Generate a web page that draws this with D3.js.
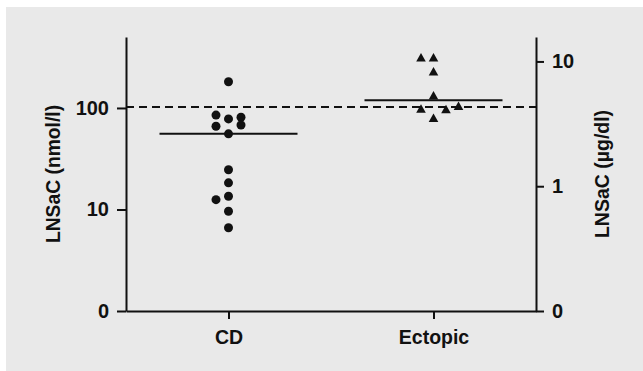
<!DOCTYPE html>
<html lang="en">

<head>
  <meta charset="UTF-8" />
  <title>LNSaC CD vs Ectopic</title>
  <script src="https://d3js.org/d3.v7.min.js"></script>
  <style>
    body { margin: 0; background: #fff; }
    svg text { font-family: "Liberation Sans", Arial, sans-serif; font-weight: bold; fill: #111; }
  </style>
</head>

<body>
  <svg width="643" height="371"></svg>

  <script>
    // groups and values (nmol/l)
    const groups = ["CD", "Ectopic"];
    const cdValues = [181, 85, 78, 81, 66, 68, 55.6, 24.6, 18.3, 13.5, 12.5, 9.6, 6.6];
    const cdSlots = [0, -1, 0, 1, -1, 1, 0, 0, 0, 0, -1, 0, 0]; // jitter column
    const ectopicValues = [314, 314, 229, 133, 98.5, 97, 104.6, 79.8];
    const ectopicSlots = [-1, 0, 0, 0, -1, 1, 2, 0];
    const cutoff = 102;
    const leftTicks = [1, 10, 100];
    const leftLabels = ["0", "10", "100"];
    const rightTicks = [0.1, 1, 10];
    const rightLabels = ["0", "1", "10"];

    const svg = d3.select("svg");
    const m = { left: 126, right: 536, top: 37, bottom: 311 };

    svg.append("rect")
      .attr("x", 6).attr("y", 7)
      .attr("width", 643 - 6).attr("height", 371 - 7)
      .attr("fill", "#e9e9e9");

    const x = d3.scalePoint().domain(groups).range([m.left, m.right]).padding(0.5);
    const y = d3.scaleLog().domain([1, 500]).range([m.bottom, m.top]);
    const y2 = d3.scaleLog().domain([0.1, 15.7]).range([m.bottom, m.top]);
    const jitter = d3.scaleLinear().domain([0, 1]).range([0, 12.5]);

    // axes
    const gL = svg.append("g").attr("transform", `translate(${m.left},0)`)
      .call(d3.axisLeft(y).tickValues(leftTicks).tickFormat((d, i) => leftLabels[i])
        .tickSize(9).tickSizeOuter(0).tickPadding(8));
    const gR = svg.append("g").attr("transform", `translate(${m.right},0)`)
      .call(d3.axisRight(y2).tickValues(rightTicks).tickFormat((d, i) => rightLabels[i])
        .tickSize(8).tickSizeOuter(0).tickPadding(8));
    const gB = svg.append("g").attr("transform", `translate(0,${m.bottom})`)
      .call(d3.axisBottom(x).tickSize(8).tickSizeOuter(0).tickPadding(11));

    [gL, gR, gB].forEach(g => {
      g.selectAll("path, line").attr("stroke", "#111").attr("stroke-width", 2);
      g.selectAll("text").attr("font-size", 20).attr("fill", "#111");
    });
    gB.selectAll("text").attr("font-size", 19.5);

    // axis titles
    svg.append("text")
      .attr("transform", "translate(53,174) rotate(-90)")
      .attr("text-anchor", "middle").attr("dy", "0.35em")
      .attr("font-size", 19.3)
      .text("LNSaC (nmol/l)");
    svg.append("text")
      .attr("transform", "translate(602,174) rotate(-90)")
      .attr("text-anchor", "middle").attr("dy", "0.35em")
      .attr("font-size", 19.5)
      .text("LNSaC (µg/dl)");

    // dashed cutoff
    svg.append("line")
      .attr("x1", m.left).attr("x2", m.right)
      .attr("y1", y(cutoff)).attr("y2", y(cutoff))
      .attr("stroke", "#111").attr("stroke-width", 2)
      .attr("stroke-dasharray", "8,5");

    // medians
    const medians = [
      { g: "CD", v: d3.median(cdValues) },
      { g: "Ectopic", v: d3.median(ectopicValues) }
    ];
    svg.selectAll(".median")
      .data(medians)
      .enter()
      .append("line")
      .attr("class", "median")
      .attr("x1", d => x(d.g) - 69).attr("x2", d => x(d.g) + 69)
      .attr("y1", d => y(d.v)).attr("y2", d => y(d.v))
      .attr("stroke", "#111").attr("stroke-width", 2);

    // CD circles
    svg.selectAll(".cd")
      .data(cdValues)
      .enter()
      .append("circle")
      .attr("class", "cd")
      .attr("cx", (d, i) => x("CD") + jitter(cdSlots[i]))
      .attr("cy", d => y(d))
      .attr("r", 4.5)
      .attr("fill", "#111");

    // Ectopic triangles
    svg.selectAll(".ect")
      .data(ectopicValues)
      .enter()
      .append("path")
      .attr("class", "ect")
      .attr("d", "M0,-4.5L4.8,4L-4.8,4Z")
      .attr("transform", (d, i) => `translate(${x("Ectopic") + jitter(ectopicSlots[i])},${y(d)})`)
      .attr("fill", "#111");
  </script>
</body>

</html>
